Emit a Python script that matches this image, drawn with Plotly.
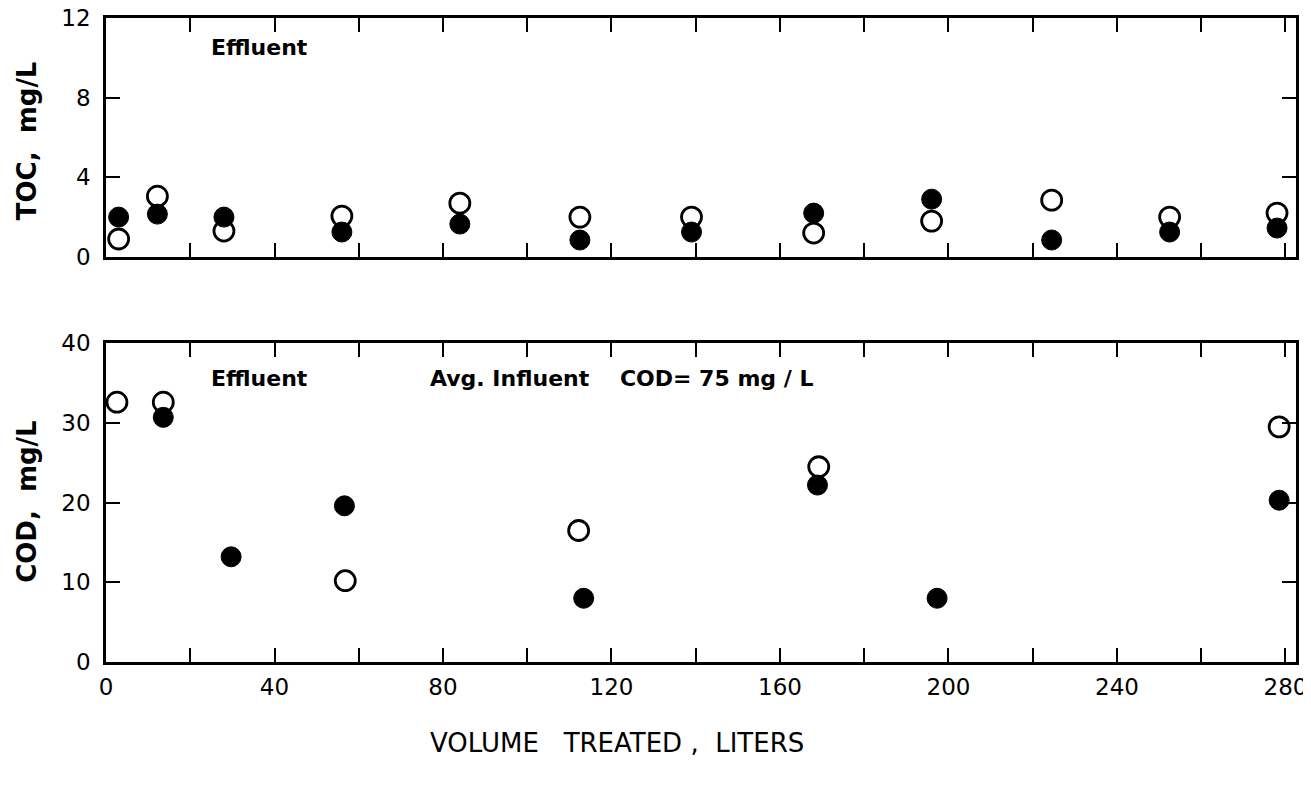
import plotly.graph_objects as go
from plotly.subplots import make_subplots

# ---- data ----
toc_x = [3, 12.2, 28, 56, 84, 112.5, 139, 168, 196, 224.5, 252.5, 278]
toc_open = [0.9, 3.05, 1.3, 2.05, 2.7, 2.0, 2.0, 1.2, 1.8, 2.85, 2.0, 2.2]
toc_filled = [2.0, 2.15, 2.0, 1.25, 1.65, 0.85, 1.25, 2.2, 2.9, 0.85, 1.25, 1.45]

cod_open_x = [2.6, 13.6, 56.8, 112.2, 169.2, 278.5]
cod_open = [32.6, 32.6, 10.2, 16.5, 24.5, 29.5]
cod_filled_x = [13.6, 29.7, 56.6, 113.4, 168.9, 197.3, 278.5]
cod_filled = [30.7, 13.2, 19.6, 8.0, 22.2, 8.0, 20.3]

x_ticks = [0, 40, 80, 120, 160, 200, 240, 280]
x_minor = list(range(0, 281, 20))
toc_ticks = [0, 4, 8, 12]
cod_ticks = [0, 10, 20, 30, 40]

FONT = "DejaVu Sans"

fig = make_subplots(rows=2, cols=1, shared_xaxes=False, vertical_spacing=0.1)

open_marker = dict(symbol="circle", size=20, color="white", line=dict(color="black", width=2.8))
filled_marker = dict(symbol="circle", size=20, color="black", line=dict(color="black", width=1))

fig.add_trace(go.Scatter(x=toc_x, y=toc_open, mode="markers", marker=open_marker,
                         cliponaxis=False, showlegend=False), row=1, col=1)
fig.add_trace(go.Scatter(x=toc_x, y=toc_filled, mode="markers", marker=filled_marker,
                         cliponaxis=False, showlegend=False), row=1, col=1)
fig.add_trace(go.Scatter(x=cod_open_x, y=cod_open, mode="markers", marker=open_marker,
                         cliponaxis=False, showlegend=False), row=2, col=1)
fig.add_trace(go.Scatter(x=cod_filled_x, y=cod_filled, mode="markers", marker=filled_marker,
                         cliponaxis=False, showlegend=False), row=2, col=1)

axis_common = dict(showline=True, linecolor="black", linewidth=2.5, mirror="ticks",
                   ticks="inside", ticklen=14, tickwidth=2, tickcolor="black",
                   showgrid=False, zeroline=False, automargin=False,
                   ticklabeloverflow="allow",
                   tickfont=dict(family=FONT, size=23, color="black"))

XR = [0, 282.5]
# the page body adds an 8px offset, so the figure is 8px smaller than the window
fig.update_layout(
    width=1303, height=777,
    margin=dict(l=98, r=15, t=10, b=123),
    plot_bgcolor="white", paper_bgcolor="white",
    xaxis=dict(domain=[0, 1], range=XR, tickmode="array", tickvals=x_minor,
               showticklabels=False, anchor="y", **axis_common),
    yaxis=dict(domain=[0.629, 1.0], range=[0, 12], tickmode="array", tickvals=toc_ticks,
               ticklabelstandoff=8, anchor="x", **axis_common),
    xaxis2=dict(domain=[0, 1], range=XR, tickmode="array", tickvals=x_minor,
                ticktext=[str(v) if v in x_ticks else "" for v in x_minor],
                anchor="y2", ticklabelstandoff=3, **axis_common),
    yaxis2=dict(domain=[0, 0.495], range=[0, 40], tickmode="array", tickvals=cod_ticks,
                ticklabelstandoff=8, anchor="x2", **axis_common),
)

ann_font = dict(family=FONT, size=22, color="black")
fig.add_annotation(text="<b>Effluent</b>", xref="x", yref="y", x=24.5, y=10.5,
                   xanchor="left", yanchor="middle", showarrow=False, font=ann_font)
fig.add_annotation(text="<b>Effluent</b>", xref="x2", yref="y2", x=24.5, y=35.6,
                   xanchor="left", yanchor="middle", showarrow=False, font=ann_font)
fig.add_annotation(text="<b>Avg. Influent    COD= 75 mg / L</b>", xref="x2", yref="y2", x=76.5, y=35.6,
                   xanchor="left", yanchor="middle", showarrow=False, font=ann_font)

title_font = dict(family=FONT, size=26, color="black")
fig.add_annotation(text="<b>TOC,  mg/L</b>", xref="paper", yref="paper", x=-0.0665, y=0.81,
                   textangle=-90, xanchor="center", yanchor="middle", showarrow=False, font=title_font)
fig.add_annotation(text="<b>COD,  mg/L</b>", xref="paper", yref="paper", x=-0.0665, y=0.25,
                   textangle=-90, xanchor="center", yanchor="middle", showarrow=False, font=title_font)
fig.add_annotation(text="VOLUME   TREATED ,  LITERS", xref="paper", yref="paper", x=0.429, y=-0.126,
                   xanchor="center", yanchor="middle", showarrow=False,
                   font=dict(family=FONT, size=26, color="black"))

fig.write_html("out.html")
